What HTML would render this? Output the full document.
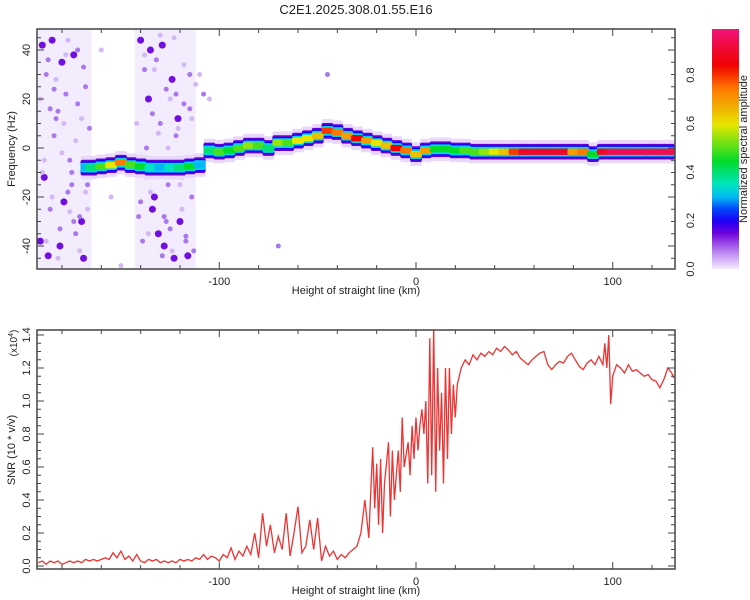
<!DOCTYPE html>
<html><head><meta charset="utf-8"><style>
body{margin:0;background:#fff}
svg{display:block;font-family:"Liberation Sans",sans-serif}
</style></head><body>
<svg id="c" width="750" height="600"></svg>
<script>
// ---------- data ----------
const snrX=[-192,-190,-188,-186,-184,-182,-180,-178,-176,-174,-172,-170,-168,-166,-164,-162,-160,-158,-156,-154,-152,-150,-148,-146,-144,-142,-140,-138,-136,-134,-132,-130,-128,-126,-124,-122,-120,-118,-116,-114,-112,-110,-108,-106,-104,-102,-100,-98,-96,-94,-92,-90,-88,-86,-84,-82,-80,-78,-76,-74,-72,-70,-68,-66,-64,-62,-60,-58,-56,-54,-52,-50,-48,-46,-44,-42,-40,-38,-36,-34,-32,-30,-28,-26,-24,-22,-21,-20,-19,-18,-17,-16,-14,-13,-12,-11,-10,-9,-8,-7,-6,-4,-3,-2,-1,0,1,2,3,4,5,6,7,8,9,10,11,12,13,14,15,16,17,18,19,20,21,23,25,27,29,31,33,35,37,39,41,43,45,47,49,51,53,55,57,59,61,63,65,67,69,71,73,75,77,79,81,83,85,87,89,91,93,95,96,97,98,99,100,102,104,106,108,110,112,114,116,118,120,122,124,126,128,130,131];
const snrV=[.02,.03,.01,.03,.02,.03,.01,.02,.03,.02,.03,.02,.04,.03,.04,.03,.04,.05,.04,.08,.05,.09,.04,.06,.03,.07,.03,.02,.04,.03,.04,.02,.03,.02,.03,.02,.04,.03,.04,.03,.05,.04,.07,.04,.06,.05,.03,.07,.05,.11,.04,.09,.06,.12,.07,.2,.05,.32,.12,.25,.08,.18,.1,.32,.06,.2,.36,.08,.12,.28,.1,.29,.03,.12,.06,.09,.04,.07,.05,.08,.1,.12,.2,.4,.17,.72,.35,.62,.25,.65,.2,.5,.75,.3,.7,.4,.55,.7,.45,.9,.6,.75,.55,.85,.65,.9,.7,.85,.95,.8,1.0,.5,1.38,.55,1.45,.45,1.2,.7,1.05,.5,1.2,.65,1.2,.8,1.1,.9,1.1,1.2,1.25,1.22,1.28,1.25,1.29,1.27,1.3,1.28,1.32,1.3,1.33,1.31,1.28,1.3,1.26,1.24,1.22,1.25,1.27,1.29,1.3,1.22,1.19,1.22,1.24,1.23,1.27,1.29,1.25,1.21,1.19,1.23,1.25,1.22,1.27,1.22,1.35,1.2,1.4,.98,1.15,1.22,1.2,1.17,1.22,1.18,1.19,1.17,1.15,1.16,1.13,1.12,1.08,1.13,1.2,1.17,1.14];
const ridgeX=[-170,-165,-160,-155,-150,-145,-140,-135,-130,-125,-120,-115,-110,-105,-100,-95,-90,-85,-80,-75,-70,-65,-60,-55,-50,-45,-40,-35,-30,-25,-20,-15,-10,-5,0,5,10,15,20,25,30,35,40,45,50,55,60,65,70,75,80,85,90,95,100,105,110,115,120,125,131];
const ridgeF=[-8,-8,-7.5,-7,-6,-7,-7.5,-8,-8,-8,-8,-7.5,-7,-1,-1.5,-1,0,1,1,0,2,2,3,4,5,7,6.5,5,4,3,2,1,0,-1,-2.5,-1,-0.5,-0.5,-1,-1,-1.5,-1.5,-1.5,-1.5,-1.5,-1.5,-1.5,-1.5,-1.5,-1.5,-1.5,-1.5,-2.5,-1.5,-1.5,-1.5,-1.5,-1.5,-1.5,-1.5,-1.5];
const ridgeA=[.3,.4,.5,.6,.75,.5,.45,.35,.3,.35,.4,.45,.3,.4,.5,.45,.5,.55,.5,.4,.55,.5,.6,.6,.65,.8,.75,.7,.85,.7,.6,.65,.85,.75,.65,.7,.45,.45,.45,.5,.5,.55,.6,.65,.8,.9,.9,.9,.9,.9,.7,.75,.45,.9,.95,.95,.95,.95,.95,.95,.95];
const noiseBands=[[-192,-165],[-143,-112]];
const noiseX=[-190,-188,-185,-183,-180,-178,-176,-174,-172,-170,-168,-166,-189,-186,-181,-177,-173,-169,-184,-179,-175,-171,-187,-182,-140,-138,-136,-134,-132,-130,-128,-126,-124,-122,-120,-118,-116,-114,-139,-135,-131,-127,-123,-119,-115,-137,-133,-129,-125,-121,-117,-141,-113,-191,-167,-108,-70,-45,
 -191,-189,-187,-185,-183,-181,-179,-177,-175,-173,-171,-169,-167,-190,-186,-182,-178,-174,-170,-188,-184,-180,-176,-172,-168,-142,-140,-138,-136,-134,-132,-130,-128,-126,-124,-122,-120,-118,-116,-114,-112,-139,-135,-131,-127,-123,-119,-115,-137,-133,-129,-125,-121,-117,-160,-155,-150,-110,-105];
const noiseF=[42,30,44,12,35,22,-5,38,18,-30,25,8,-12,-25,-40,-18,-35,-45,5,-22,-10,-28,-44,15,44,32,20,-25,36,10,-40,-15,28,5,-30,18,-44,-20,-8,40,-35,24,-45,-12,30,0,-20,42,-33,12,-38,-28,-42,-38,-15,22,-40,30,
 20,-5,36,-20,28,-33,10,44,-15,3,-42,33,-25,-10,16,-45,38,-30,12,-38,24,-2,-26,40,-18,10,-22,38,-35,14,-8,46,-28,0,-42,22,-15,34,-5,12,26,-38,-18,6,-30,45,-25,16,-12,32,-44,20,8,-36,40,-20,-48,30,20,-35,-30];
const noiseS=[2,1,2,1,2,1,1,2,1,2,1,1,2,1,2,1,1,2,1,2,1,1,2,1,2,1,2,2,1,1,2,1,2,1,2,1,2,1,1,2,2,1,2,1,1,1,2,2,1,2,1,1,1,2,1,1,1,1,
 0,0,1,0,0,1,0,0,1,0,0,1,0,0,1,0,0,1,0,0,1,0,0,1,0,0,1,0,0,1,0,0,1,0,0,1,0,0,1,0,0,1,0,0,1,0,0,1,0,0,1,0,0,1,0,0,0,0,0];
const cbTicks=[0,0.2,0.4,0.6,0.8];
const snrTicks=[0,0.2,0.4,0.6,0.8,1.0,1.2,1.4];
const freqTicks=[-40,-20,0,20,40];
const xTicks=[-100,0,100];

// ---------- geometry ----------
const NS='http://www.w3.org/2000/svg', svg=document.getElementById('c');
const L=37,R=675,T1=29,B1=269,T2=330,B2=569;
const xs=k=>416+k*1.967;
const yf=f=>148-f*2.45;
const ys=v=>566-v*165;
function el(t,a,p){const e=document.createElementNS(NS,t);for(const k in a)e.setAttribute(k,a[k]);(p||svg).appendChild(e);return e;}
function cmap(v){
 const st=[[0,[245,235,255]],[.08,[180,120,240]],[.15,[110,0,220]],[.22,[0,0,255]],[.32,[0,230,240]],[.45,[0,220,40]],[.6,[230,230,0]],[.75,[255,120,0]],[.85,[240,0,0]],[1,[240,20,120]]];
 for(let i=1;i<st.length;i++)if(v<=st[i][0]){const a=st[i-1],b=st[i],t=(v-a[0])/(b[0]-a[0]);return 'rgb('+a[1].map((c,j)=>Math.round(c+(b[1][j]-c)*t)).join(',')+')';}
 return 'rgb(240,20,120)';
}
el('text',{x:356,y:14,'text-anchor':'middle','font-size':13,fill:'#222'}).textContent='C2E1.2025.308.01.55.E16';


// ---------- top plot ----------
const g1=el('g',{'clip-path':'url(#cp1)'});


el('clipPath',{id:'cp1'}).appendChild(el('rect',{x:L,y:T1,width:R-L,height:B1-T1}));
noiseBands.forEach(b=>{const r=el('rect',{x:xs(b[0]),y:T1,width:xs(b[1])-xs(b[0]),height:B1-T1,fill:'#eadcfa',opacity:.55},g1);
 });
const nr=[2.5,2.5,3.5], nc=['#d2b8f4','#a878ec','#7010e0'];
noiseX.forEach((x,i)=>{const c=el('circle',{cx:xs(x),cy:yf(noiseF[i]),r:nr[noiseS[i]],fill:nc[noiseS[i]]},g1);
 });
const layers=[[4.8,'#e8d8fa'],[3.2,'#6a00d8'],[2.5,'#0000ff'],[2.0,'#00d8e8'],[1.3,null]];
layers.forEach(([w,col])=>{
 for(let i=0;i<ridgeX.length;i++){
  const x0=i?(ridgeX[i-1]+ridgeX[i])/2:ridgeX[i], x1=i<ridgeX.length-1?(ridgeX[i]+ridgeX[i+1])/2:ridgeX[i];
  const c=col||cmap(ridgeA[i]);
  const r=el('rect',{x:xs(x0)-1,y:yf(ridgeF[i]+w),width:xs(x1)-xs(x0)+2,height:w*2*2.45,rx:2,fill:c},g1);
  
 }
});
function frame(T,B,name){const r=el('rect',{x:L,y:T,width:R-L,height:B-T,fill:'none',stroke:'#444','stroke-width':1.5});
 }
frame(T1,B1,'spectrogram-frame');
function xAxis(T,B){
 for(let k=-180;k<=120;k+=20){const X=xs(k),big=k%100==0,l=big?7:4;
  el('line',{x1:X,x2:X,y1:B,y2:B-l,stroke:'#444'});el('line',{x1:X,x2:X,y1:T,y2:T+l,stroke:'#444'});}
 xTicks.forEach(k=>{const t=el('text',{x:xs(k),y:B+16,'text-anchor':'middle','font-size':11,fill:'#222'});t.textContent=k;
  });
 const t=el('text',{x:356,y:B+25,'text-anchor':'middle','font-size':11,fill:'#222'});t.textContent='Height of straight line (km)';
 
}
xAxis(T1,B1);
for(let f=-45;f<=45;f+=5){const Y=yf(f),l=f%20==0?7:4;
 el('line',{x1:L,x2:L+l,y1:Y,y2:Y,stroke:'#444'});el('line',{x1:R,x2:R-l,y1:Y,y2:Y,stroke:'#444'});}
freqTicks.forEach(f=>{const t=el('text',{transform:`translate(30,${yf(f)}) rotate(-90)`,'text-anchor':'middle','font-size':11,fill:'#222'});t.textContent=f;
 });
let t=el('text',{transform:'translate(15,149) rotate(-90)','text-anchor':'middle','font-size':11,fill:'#222'});t.textContent='Frequency (Hz)';


// ---------- colorbar ----------
const defs=el('defs',{});const lg=el('linearGradient',{id:'cb',x1:0,y1:1,x2:0,y2:0},defs);
for(let i=0;i<=20;i++)el('stop',{offset:i/20,'stop-color':cmap(i/20)},lg);
const cb=el('rect',{x:712,y:29,width:27,height:240,fill:'url(#cb)'});

cbTicks.forEach(v=>{const Y=269-v*240/0.99;const tt=el('text',{transform:`translate(694,${Y}) rotate(-90)`,'text-anchor':'middle','font-size':11,fill:'#222'});tt.textContent=v.toFixed(1);
 });
t=el('text',{transform:'translate(747,149) rotate(-90)','text-anchor':'middle','font-size':11,fill:'#222'});t.textContent='Normalized spectral amplitude';


// ---------- bottom plot ----------
el('clipPath',{id:'cp2'}).appendChild(el('rect',{x:L,y:T2,width:R-L,height:B2-T2}));
const p=el('polyline',{points:snrX.map((x,i)=>xs(x).toFixed(1)+','+ys(snrV[i]).toFixed(1)).join(' '),fill:'none',stroke:'#ee3333','stroke-width':1.3,'clip-path':'url(#cp2)'});

frame(T2,B2,'snr-frame');
xAxis(T2,B2);
for(let v=0;v<=1.41;v+=0.05){const Y=ys(v),l=Math.abs(v/0.2-Math.round(v/0.2))<1e-6?7:4;
 el('line',{x1:L,x2:L+l,y1:Y,y2:Y,stroke:'#444'});el('line',{x1:R,x2:R-l,y1:Y,y2:Y,stroke:'#444'});}
snrTicks.forEach(v=>{const tt=el('text',{transform:`translate(30,${ys(v)}) rotate(-90)`,'text-anchor':'middle','font-size':11,fill:'#222'});tt.textContent=v.toFixed(1);
 });
t=el('text',{transform:'translate(15,450) rotate(-90)','text-anchor':'middle','font-size':11,fill:'#222'});t.textContent='SNR (10 * v/v)';

t=el('text',{transform:'translate(17,343) rotate(-90)','text-anchor':'middle','font-size':10,fill:'#222'});t.innerHTML='(x10<tspan dy="-4" font-size="7">4</tspan><tspan dy="4">)</tspan>';

</script>
</body></html>
